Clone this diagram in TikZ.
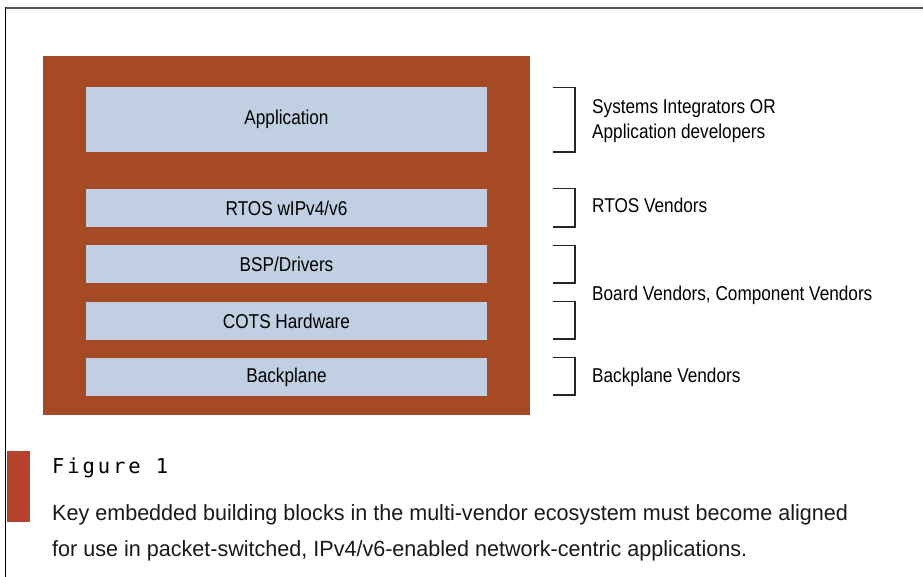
\documentclass[tikz,border=0pt]{standalone}
\usepackage{fontspec}
\setmainfont[FakeStretch=0.86]{Liberation Sans}
\newfontfamily\capfont[FakeStretch=0.98]{Liberation Sans}
\newfontfamily\figfont[LetterSpace=14]{DejaVu Sans Mono}
\definecolor{brownbg}{HTML}{A64A26}
\definecolor{layerblue}{HTML}{C0CFE1}
\definecolor{redbar}{HTML}{B5412F}
\definecolor{framegray}{HTML}{555555}
\begin{document}
\begin{tikzpicture}[x=1pt,y=-1pt,
  layer/.style={fill=layerblue, draw=none, minimum width=401pt, inner sep=0pt,
    font=\fontsize{20}{24}\selectfont, text=black},
  vlabel/.style={anchor=base west, inner sep=0pt, align=left,
    font=\fontsize{20}{25}\selectfont, text=black},
  brk/.style={draw=black!85, line width=1.2pt}
]
\useasboundingbox (0,0) rectangle (923,577);
% frame
\draw[framegray, line width=2pt] (4.8,8.3) -- (923,8.3);
\draw[black, line width=1.2pt] (5.5,7.5) -- (5.5,577);
% stack background
\fill[brownbg] (43,56) rectangle (530,415);
% layers
\node[layer, minimum height=65pt] (app)  at (286.5,119.5) {Application};
\node[layer, minimum height=38pt] (rtos) at (286.5,208)   {RTOS wIPv4/v6};
\node[layer, minimum height=38pt] (bsp)  at (286.5,264)   {BSP/Drivers};
\node[layer, minimum height=38pt] (cots) at (286.5,321)   {COTS Hardware};
\node[layer, minimum height=38pt] (bp)   at (286.5,377)   {Backplane};
% brackets
\draw[brk] (553,87.5) -- (575,87.5) -- (575,152) -- (553,152);
\draw[brk] (553,188.5) -- (575,188.5) -- (575,227) -- (553,227);
\draw[brk] (553,245.5) -- (575,245.5) -- (575,283) -- (553,283);
\draw[brk] (553,301.5) -- (575,301.5) -- (575,339) -- (553,339);
\draw[brk] (553,357.5) -- (575,357.5) -- (575,395) -- (553,395);
% vendor labels
\node[vlabel] (l1) at (592,139) {Systems Integrators OR\\Application developers};
\node[vlabel] (l2) at (592,213) {RTOS Vendors};
\node[vlabel] (l3) at (592,300) {Board Vendors, Component Vendors};
\node[vlabel] (l4) at (592,382) {Backplane Vendors};
% caption
\fill[redbar] (6.5,451) rectangle (30,522);
\node[anchor=base west, inner sep=0pt, font=\figfont\fontsize{20.5}{24}\selectfont] (fig) at (52,473) {Figure 1};
\node[anchor=base west, inner sep=0pt, font=\capfont\fontsize{22}{26}\selectfont, text=black!90] (c1) at (52,520) {Key embedded building blocks in the multi-vendor ecosystem must become aligned};
\node[anchor=base west, inner sep=0pt, font=\capfont\fontsize{22}{26}\selectfont, text=black!90] (c2) at (52,556) {for use in packet-switched, IPv4/v6-enabled network-centric applications.};
\end{tikzpicture}
\end{document}
